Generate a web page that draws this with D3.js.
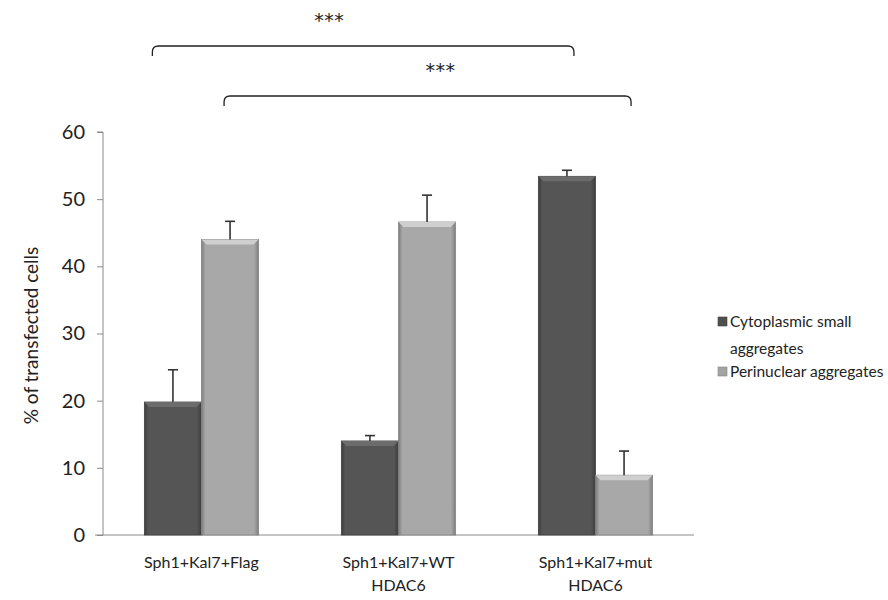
<!DOCTYPE html>
<html>
<head>
<meta charset="utf-8">
<script src="https://cdn.jsdelivr.net/npm/d3@7"></script>
<style>
  body { margin: 0; background: #fff; }
  text { font-family: Lato, "Open Sans", sans-serif; fill: #222; }
</style>
</head>
<body>
<div id="chart"></div>
<script>
const categories = [["Sph1+Kal7+Flag"], ["Sph1+Kal7+WT", "HDAC6"], ["Sph1+Kal7+mut", "HDAC6"]];
const seriesNames = ["Cytoplasmic small aggregates", "Perinuclear aggregates"];
const cytoplasmic = [19.8, 14.0, 53.4];
const perinuclear = [44.0, 46.6, 8.9];
const cytoErr = [4.8, 0.8, 0.9];
const periErr = [2.7, 4.0, 3.6];
const yTicks = [0, 10, 20, 30, 40, 50, 60];
// significance brackets: [category, series] at each end
const brackets = [
    { from: [0, 0], to: [2, 0], label: "***" },
    { from: [0, 1], to: [2, 1], label: "***" }
];

const width = 888, height = 600;
const margin = { top: 132, left: 103, bottom: 65 };

const svg = d3.select("#chart").append("svg")
    .attr("width", width)
    .attr("height", height);

const defs = svg.append("defs");
function barGradient(id, edge, mid) {
    const g = defs.append("linearGradient").attr("id", id)
        .attr("x1", "0%").attr("x2", "100%").attr("y1", "0%").attr("y2", "0%");
    g.append("stop").attr("offset", "0%").attr("stop-color", edge);
    g.append("stop").attr("offset", "7%").attr("stop-color", mid);
    g.append("stop").attr("offset", "92%").attr("stop-color", mid);
    g.append("stop").attr("offset", "100%").attr("stop-color", edge);
}
barGradient("gDark", "#3e3e3e", "#555555");
barGradient("gLight", "#7d7d7d", "#a8a8a8");

const colors = [
    { fill: "url(#gDark)", bevel: "#6c6c6c", solid: "#4f4f4f" },
    { fill: "url(#gLight)", bevel: "#cfcfcf", solid: "#a3a3a3" }
];

const x = d3.scaleBand()
    .domain(d3.range(categories.length))
    .range([margin.left, 694])
    .paddingInner(0.42)
    .paddingOuter(0.21);

const xSub = d3.scaleBand()
    .domain([0, 1])
    .range([0, x.bandwidth()]);

const y = d3.scaleLinear()
    .domain([0, 60])
    .range([height - margin.bottom, margin.top]);

// axes
const yAxis = svg.append("g")
    .attr("transform", `translate(${margin.left},0)`)
    .call(d3.axisLeft(y).tickValues(yTicks).tickSize(6).tickPadding(12));
yAxis.select(".domain").attr("stroke", "#8a8a8a").attr("d", `M-6,${y(60)}H0V${y(0)}`);
yAxis.selectAll(".tick line").attr("stroke", "#8a8a8a");
yAxis.selectAll(".tick text")
    .style("font-size", "20px")
    .attr("fill", "#222");

svg.append("line")
    .attr("x1", margin.left - 8).attr("x2", 694)
    .attr("y1", y(0)).attr("y2", y(0))
    .attr("stroke", "#8a8a8a");

svg.append("text")
    .attr("transform", `translate(38,${(y(0) + y(60)) / 2 + 2}) rotate(-90)`)
    .attr("text-anchor", "middle")
    .style("font-size", "19px")
    .text("% of transfected cells");

// bars
const data = categories.map((c, i) => [
    { cat: i, s: 0, v: cytoplasmic[i], e: cytoErr[i] },
    { cat: i, s: 1, v: perinuclear[i], e: periErr[i] }
]).flat();

const bars = svg.append("g").selectAll("g.bar")
    .data(data)
    .join("g")
    .attr("class", "bar")
    .attr("transform", d => `translate(${x(d.cat) + xSub(d.s)},0)`);

bars.append("rect")
    .attr("x", 0)
    .attr("y", d => y(d.v))
    .attr("width", xSub.bandwidth())
    .attr("height", d => y(0) - y(d.v))
    .attr("fill", d => colors[d.s].fill)
    .attr("stroke", d => d3.color(colors[d.s].solid).darker(0.6))
    .attr("stroke-width", 0.8);

// top bevel
bars.append("path")
    .attr("d", d => {
        const w = xSub.bandwidth(), t = y(d.v), b = 5;
        return `M0,${t}H${w}L${w - b},${t + b}H${b}Z`;
    })
    .attr("fill", d => colors[d.s].bevel);

// error bars
const eb = bars.append("g").attr("stroke", "#333").attr("stroke-width", 1.6);
eb.append("line")
    .attr("x1", xSub.bandwidth() / 2).attr("x2", xSub.bandwidth() / 2)
    .attr("y1", d => y(d.v)).attr("y2", d => y(d.v + d.e));
eb.append("line")
    .attr("x1", xSub.bandwidth() / 2 - 5).attr("x2", xSub.bandwidth() / 2 + 5)
    .attr("y1", d => y(d.v + d.e)).attr("y2", d => y(d.v + d.e));

// category labels
const catLabels = svg.append("g").selectAll("text")
    .data(categories)
    .join("text")
    .attr("x", (d, i) => x(i) + x.bandwidth() / 2)
    .attr("y", y(0) + 33)
    .attr("text-anchor", "middle")
    .style("font-size", "16px");
catLabels.selectAll("tspan")
    .data(d => d)
    .join("tspan")
    .attr("x", function () { return d3.select(this.parentNode).attr("x"); })
    .attr("dy", (d, i) => i === 0 ? 0 : 23)
    .text(d => d);

// significance brackets
const bracketY = [46, 96];
const labelShift = [-34, 13];
brackets.forEach((b, i) => {
    const x1 = x(b.from[0]) + xSub(b.from[1]) + (b.from[1] === 0 ? 8 : xSub.bandwidth() / 2 - 6);
    const x2 = x(b.to[0]) + xSub(b.to[1]) + xSub.bandwidth() / 2 + 7;
    const by = bracketY[i], r = 6, drop = 10;
    svg.append("path")
        .attr("d", `M${x1},${by + drop}V${by + r}Q${x1},${by} ${x1 + r},${by}H${x2 - r}Q${x2},${by} ${x2},${by + r}V${by + drop}`)
        .attr("fill", "none")
        .attr("stroke", "#222")
        .attr("stroke-width", 1.3);
    svg.append("text")
        .attr("x", (x1 + x2) / 2 + labelShift[i])
        .attr("y", by - 19)
        .attr("text-anchor", "middle")
        .style("font-family", "'DejaVu Sans', sans-serif")
        .style("font-size", "19px")
        .style("letter-spacing", "0.5px")
        .text(b.label);
});

// legend
const legendRows = [["Cytoplasmic small", "aggregates"], ["Perinuclear aggregates"]];
const legend = svg.append("g").attr("transform", "translate(718,0)");
const legendY = [322, 372];
legendRows.forEach((lines, i) => {
    legend.append("rect")
        .attr("x", 0).attr("y", legendY[i] - 5)
        .attr("width", 9).attr("height", 9)
        .attr("fill", colors[i].solid)
        .attr("stroke", d3.color(colors[i].solid).darker(0.6))
        .attr("stroke-width", 0.6);
    legend.append("text")
        .attr("x", 12)
        .attr("y", legendY[i] + 5)
        .style("font-size", "15.5px")
        .selectAll("tspan")
        .data(lines)
        .join("tspan")
        .attr("x", 12)
        .attr("dy", (d, j) => j === 0 ? 0 : 27)
        .text(d => d);
});
</script>
</body>
</html>
